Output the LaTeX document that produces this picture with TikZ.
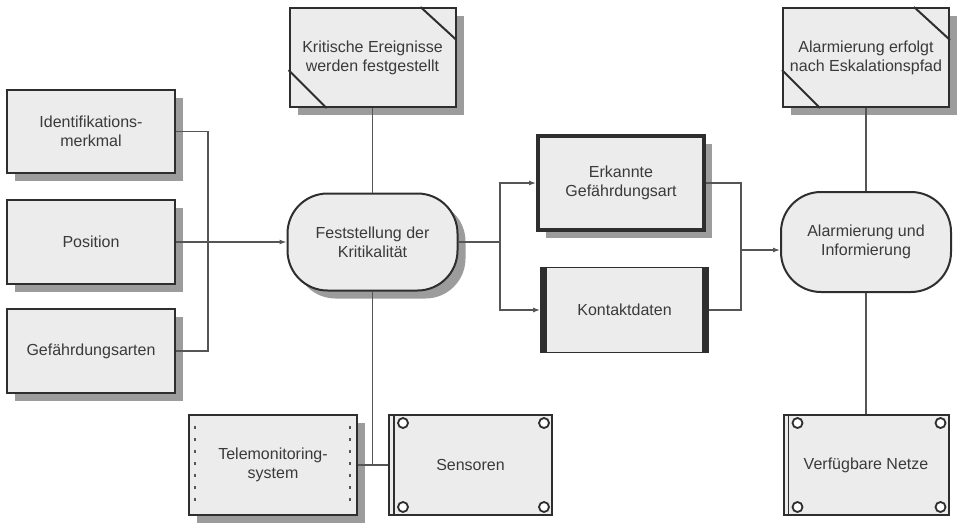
\documentclass[tikz,border=0pt]{standalone}
\usepackage{fontspec}
\setmainfont{Liberation Sans}
\usetikzlibrary{arrows.meta,calc,shadows}
\definecolor{boxfill}{HTML}{ECECEC}
\definecolor{boxline}{HTML}{2E2E2E}
\definecolor{connc}{HTML}{555555}
\definecolor{txt}{HTML}{3A3A3A}
\definecolor{shadowc}{HTML}{9C9C9C}
\begin{document}
\begin{tikzpicture}[x=1pt,y=-1pt,
  box/.style={draw=boxline, fill=boxfill, line width=2pt, align=center, inner sep=0pt,
    font=\fontsize{16}{19}\selectfont, text=txt},
  shad/.style={drop shadow={shadow xshift=8pt, shadow yshift=-8pt, fill=shadowc, opacity=1}},
  rnd/.style={rounded corners=40pt},
  conn/.style={draw=connc, line width=1.3pt},
  arr/.style={conn, -{Latex[length=7pt,width=5pt]}},
  deco/.style={draw=boxline, line width=2pt},
  ring/.style={draw=boxline, fill=white, line width=1.8pt},
  ticks/.style={draw=connc, line width=1.2pt, dash pattern=on 3pt off 9pt}
]
\useasboundingbox (0,0) rectangle (958,525);

% nodes
\node[box, shad, minimum width=166pt, minimum height=99pt] (krit) at (372.5,57.5) {Kritische Ereignisse\\werden festgestellt};
\node[box, shad, minimum width=166pt, minimum height=99pt] (alarmE) at (866,57.5) {Alarmierung erfolgt\\nach Eskalationspfad};
\node[box, shad, minimum width=168pt, minimum height=83pt] (ident) at (91,131.5) {Identifikations-\\merkmal};
\node[box, shad, minimum width=168pt, minimum height=84pt] (posn) at (91,242) {Position};
\node[box, shad, minimum width=168pt, minimum height=84pt] (gef) at (91,351) {Gefährdungsarten};
\node[box, shad, rnd, minimum width=170pt, minimum height=97pt] (fest) at (372.5,242) {Feststellung der\\Kritikalität};
\node[box, shad, line width=4pt, minimum width=166pt, minimum height=94pt] (erk) at (621,183) {Erkannte\\Gefährdungsart};
\node[box, line width=1.6pt, minimum width=167pt, minimum height=85pt] (kont) at (624.5,310) {Kontaktdaten};
\node[box, rnd, minimum width=170pt, minimum height=100pt] (alarmI) at (866,242) {Alarmierung und\\Informierung};
\node[box, shad, minimum width=168pt, minimum height=100pt] (tele) at (273,465) {Telemonitoring-\\system};
\node[box, minimum width=163pt, minimum height=100pt] (sens) at (470.5,465) {Sensoren};
\node[box, minimum width=165pt, minimum height=100pt] (netze) at (866,465) {Verfügbare Netze};

% decorations: cut corners
\foreach \n in {krit,alarmE}{
  \draw[deco] ($(\n.north east)+(-36,0)$) -- ($(\n.north east)+(0,33)$);
  \draw[deco] ($(\n.south west)+(0,-38)$) -- ($(\n.south west)+(38,0)$);
}
% Kontaktdaten bars
\fill[boxline] (kont.north west) rectangle ($(kont.south west)+(7,0)$);
\fill[boxline] ($(kont.north east)+(-7,0)$) rectangle (kont.south east);
% Telemonitoring ticks
\draw[ticks] ($(tele.north west)+(7,12)$) -- ($(tele.south west)+(7,-8)$);
\draw[ticks] ($(tele.north east)+(-8,12)$) -- ($(tele.south east)+(-8,-8)$);
% Sensoren / Netze: double left edge and corner rings
\foreach \n in {sens,netze}{
  \draw[boxline, line width=1.4pt] ($(\n.north west)+(6,0)$) -- ($(\n.south west)+(6,0)$);
  \draw[ring] ($(\n.north west)+(15,9)$) circle (5pt);
  \draw[ring] ($(\n.north east)+(-9,9)$) circle (5pt);
  \draw[ring] ($(\n.south west)+(15,-9)$) circle (5pt);
  \draw[ring] ($(\n.south east)+(-9,-9)$) circle (5pt);
}

% junctions
\coordinate (jL) at (208,242);
\coordinate (jR) at (500,242);
\coordinate (jR2) at (741,250);
\coordinate (jB) at (372.5,465);

% connectors
\draw[conn] (ident.east) -| (jL) |- (gef.east);
\draw[arr] (posn.east) -- (fest.west);
\draw[conn] (krit.south) -- (fest.north);
\draw[conn] (fest.south) -- (jB);
\draw[conn] (tele.east) -- (jB) -- (sens.west);
\draw[conn] (fest.east) -- (jR);
\draw[arr] (jR) |- (erk.west);
\draw[arr] (jR) |- (kont.west);
\draw[conn] (erk.east) -| (jR2) |- (kont.east);
\draw[arr] (jR2) -- (jR2 -| alarmI.west);
\draw[conn] (alarmE.south) -- (alarmI.north);
\draw[conn] (alarmI.south) -- (netze.north);
\end{tikzpicture}
\end{document}
